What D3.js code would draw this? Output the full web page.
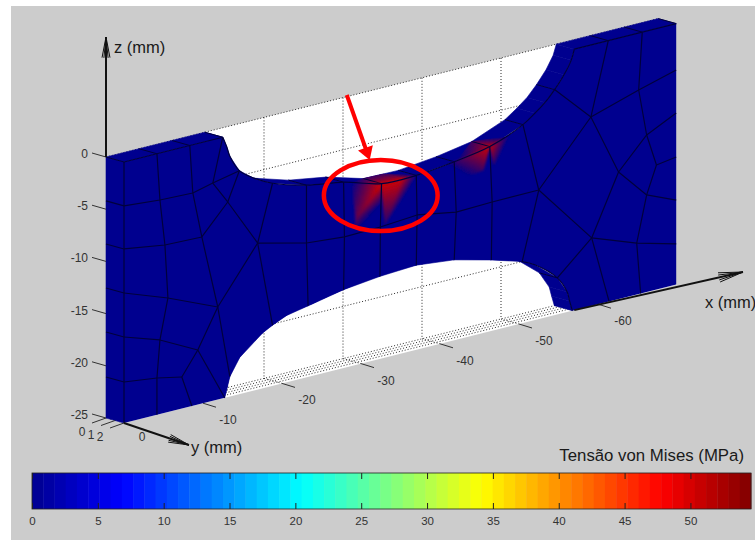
<!DOCTYPE html>
<html>
<head>
<meta charset="utf-8">
<script src="https://cdnjs.cloudflare.com/ajax/libs/d3/7.8.5/d3.min.js"></script>
<style>
    html, body { margin: 0; padding: 0; background: #fff; }
    svg { display: block; }
    text { font-family: "Liberation Sans", Arial, sans-serif; }
</style>
</head>
<body>
<svg id="chart" width="755" height="540"></svg>
<script>
// all geometry in mm, x and z are negative like on the plot axes
const plateLength = -69.9;
const plateDepth = -25;

const topNotch = [[-12.5, 0], [-13, -1], [-13.4, -2], [-14.6, -3.6], [-16.3, -4.6], [-18.8, -5.6], [-23.1, -6.6],
    [-27.8, -7.2], [-32.6, -8.25], [-37, -8.3], [-41.8, -7.9], [-46.3, -7.3], [-50.5, -6], [-52, -5.2],
    [-53.3, -4.4], [-54.5, -3.4], [-55.7, -2.2], [-56.6, -1], [-57, 0]];

const bottomNotch = [[-12.75, -25], [-13.1, -24], [-13.4, -23.1], [-14.65, -21.5], [-17.55, -19.7], [-18.8, -19.2],
    [-20.6, -18.6], [-23.3, -18.2], [-27.8, -17.5], [-32.4, -17.1], [-37, -16.9], [-41.8, -17.3], [-46.5, -18.2],
    [-50.4, -19.1], [-52, -19.7], [-54.85, -21.5], [-56.1, -23.1], [-56.4, -24], [-56.75, -25]];

const meshNodes = {
    L1: [0, -4.21], L2: [0, -8.33], L3: [0, -12.55], L4: [0, -16.76], L5: [0, -21.07],
    t1: [-4.17, 0], t2: [-8.33, 0], t3: [-12.5, 0], t4: [-61.3, 0], t5: [-65.6, 0],
    n2: [-4.55, -4.5], n3: [-8.71, -4.62], n4: [-11.24, -4.15], n5: [-13.13, -6.32], n6: [-16.92, -10.97],
    n7: [-23.1, -12.14], n8: [-27.9, -12.47], n9: [-32.45, -12.38], n10: [-37.1, -12.11], n11: [-42.05, -12.77],
    n12: [-46.6, -12.67], n13: [-52.5, -12.64],
    r2: [-5.18, -8.93], r3: [-9.85, -9.05],
    a2: [-5.56, -14.08], a3: [-11.87, -16.14], b2: [-4.55, -17.91], b3: [-9.34, -19.78],
    c2: [-4.17, -21.48], c3: [-7.32, -21.98], d1: [-4.17, -25], d2: [-8.59, -25], d3: [-61.4, -25], d4: [-65.4, -25],
    p1: [-59.1, -6.9], p2: [-65.15, -5.46], p3: [-66.16, -9.96], p4: [-67.4, -13.07], p5: [-62.6, -12.83],
    p6: [-66.16, -15.7], p7: [-59.2, -18.5], p8: [-64.9, -20.07],
    e1: [-69.9, -4.44], e2: [-69.9, -8.56], e3: [-69.9, -12.78], e4: [-69.9, -16.9], e5: [-69.9, -21.1],
    u1: [-14.6, -3.6], u2: [-18.8, -5.6], u3: [-23.1, -6.6], u4: [-27.8, -7.2], u5: [-32.6, -8.25], u6: [-37, -8.3],
    u7: [-41.8, -7.9], u8: [-46.3, -7.3], u9: [-50.5, -6], u10: [-54.5, -3.4],
    w1: [-13.4, -23.1], w2: [-18.8, -19.2], w3: [-23.3, -18.2], w4: [-27.8, -17.5], w5: [-32.4, -17.1], w6: [-37, -16.9],
    w7: [-41.8, -17.3], w8: [-46.5, -18.2], w9: [-50.4, -19.1], w10: [-54.85, -21.5], w0: [-12.75, -25]
};

const meshLines = [
    ['L1', 'n2', 'n3', 'n4', 'u1'], ['L2', 'r2', 'r3', 'n5', 'u1'], ['t3', 'n4', 'n5', 'n6', 'u2'],
    ['r3', 'a3', 'n6', 'n7', 'n8', 'n9', 'n10', 'n11', 'n12', 'n13', 'p7'],
    ['t1', 'n2', 'r2', 'a2', 'b2', 'c2', 'd1'], ['t2', 'n3', 'r3'],
    ['L3', 'a2', 'a3'], ['L4', 'b2', 'b3'], ['L5', 'c2', 'c3'], ['a3', 'b3', 'c3', 'd2'], ['b3', 'w0'], ['a3', 'w1'],
    ['n6', 'w2'], ['u3', 'n7', 'w3'], ['u4', 'n8', 'w4'], ['u5', 'n9', 'w5'], ['u6', 'n10', 'w6'],
    ['u7', 'n11', 'w7'], ['u8', 'n12', 'w8'], ['u9', 'n13', 'w9'], ['n13', 'p1', 'u10'], ['p1', 't4'],
    ['p1', 'p2', 'e1'], ['p2', 't5'], ['p2', 'p3', 'e2'], ['p3', 'p4', 'e3'], ['p3', 'p5', 'p1'], ['p5', 'p7'],
    ['p5', 'p6', 'e4'], ['p4', 'p6', 'p8', 'e5'], ['p7', 'p8', 'd4'], ['p7', 'w10'], ['p7', 'd3']
];

// nodes where the mesh also runs across the 2 mm thickness
const acrossNodes = ['t1', 't2', 't3', 't4', 't5', 'u3', 'u4', 'u5', 'u6', 'u7', 'u8', 'u9', 'u10', 'w9', 'w10'];

// stress spots, one triangle per row: [x, y, z, stress] at each corner
const hotBand = [
    [[-28.8, 2, -7.5, 0], [-32.6, 2, -8.25, 40], [-32.6, 0, -8.25, 14]],
    [[-32.6, 2, -8.25, 40], [-35.1, 2, -8.3, 40], [-32.6, 0, -8.25, 14]],
    [[-35.1, 2, -8.3, 40], [-35.1, 0, -8.3, 14], [-32.6, 0, -8.25, 14]],
    [[-35.1, 2, -8.3, 40], [-37.1, 2, -8.3, 0], [-35.1, 0, -8.3, 14]],
    [[-42.2, 2, -7.85, 0], [-46.3, 2, -7.3, 40], [-46.3, 0, -7.3, 16]],
    [[-46.3, 2, -7.3, 40], [-48.5, 2, -6.8, 0], [-46.3, 0, -7.3, 16]]
];
const hotFace = [
    [[-32.6, 2, -8.25, 50], [-28.8, 2, -7.5, 0], [-29.4, 2, -10.94, 24]],
    [[-32.6, 2, -8.25, 50], [-29.4, 2, -10.94, 24], [-32.45, 2, -10.28, 0]],
    [[-28.8, 2, -7.5, 0], [-29.4, 2, -10.94, 24], [-29.3, 2, -12.26, 0]],
    [[-32.45, 2, -10.28, 0], [-29.4, 2, -10.94, 24], [-29.3, 2, -12.26, 0]],
    [[-32.6, 2, -8.25, 50], [-35.1, 2, -8.3, 48], [-33, 2, -12.3, 8]],
    [[-35.1, 2, -8.3, 48], [-37.1, 2, -8.3, 0], [-33, 2, -12.3, 8]],
    [[-46.3, 2, -7.3, 50], [-42.2, 2, -7.85, 14], [-45.5, 2, -9.4, 16]],
    [[-46.3, 2, -7.3, 46], [-48.8, 2, -6.7, 0], [-46.8, 2, -9.2, 8]],
    [[-42.2, 2, -7.85, 14], [-45.5, 2, -9.4, 16], [-43.6, 2, -9.6, 0]],
    [[-42.2, 2, -7.85, 14], [-41, 2, -8, 0], [-43.6, 2, -9.6, 0]]
];

const xTicks = [0, -10, -20, -30, -40, -50, -60];
const zTicks = [0, -5, -10, -15, -20, -25];
const yTicks = [0, 1, 2];
const gridX = [-20, -30, -40, -50];
const gridZ = [0, -5, -10, -15, -20];
const floorRows = [0, 0.5, 1, 1.5];

const colorbarTicks = [0, 5, 10, 15, 20, 25, 30, 35, 40, 45, 50];
const stressMax = 54.6;
const jetStops = [0, 0.125, 0.375, 0.625, 0.875, 1];
const jetColors = ['#00008f', '#0000ff', '#00ffff', '#ffff00', '#ff0000', '#800000'];
const jetLevels = 64;

const arrowStart = [-28.2, 1.07];
const arrowTip = [-31.1, -5.7];
const ringCenter = [-32.5, -9.37];
const ringRadii = [-7.2, -3.4];

const svg = d3.select('#chart');

// oblique projection of the plot box on the page
const xToPx = d3.scaleLinear().domain([0, -70]).range([0, 553]);
const xToPy = d3.scaleLinear().domain([0, -70]).range([0, -138.6]);
const zToPy = d3.scaleLinear().domain([0, -25]).range([0, 261]);
const yToPx = d3.scaleLinear().domain([0, 2]).range([106, 124]);
const yToPy = d3.scaleLinear().domain([0, 2]).range([157, 162]);
const project = (x, y, z) => [yToPx(y) + xToPx(x), yToPy(y) + xToPy(x) + zToPy(z)];

const jet = d3.scaleLinear().domain(jetStops).range(jetColors).interpolate(d3.interpolateRgb);
const stressColor = (v) => jet(v / stressMax);
const baseColor = jetColors[0];
const hotColor = stressColor(50);
const outline = d3.line();
const smooth = d3.line().curve(d3.curveCatmullRom);

function onFace(points, y = 2) {
    return points.map((p) => project(p[0], y, p[1]));
}

// figure background
svg.append('rect').attr('x', 11).attr('y', 6).attr('width', 744).attr('height', 534).attr('fill', '#cccccc');

const defs = svg.append('defs');
defs.append('filter').attr('id', 'soft').attr('x', '-20%').attr('y', '-20%').attr('width', '140%').attr('height', '140%')
    .append('feGaussianBlur').attr('stdDeviation', 0.9);

// white back wall and floor
svg.append('path')
    .attr('d', outline([project(0, 0, 0), project(-70, 0, 0), project(-70, 0, -25), project(-70, 2, -25),
        project(0, 2, -25), project(0, 0, -25)]) + 'Z')
    .attr('fill', '#fff');

const grid = svg.append('g').attr('fill', 'none').attr('stroke', '#2c2c2c')
    .attr('stroke-width', 1).attr('stroke-dasharray', '1 2');
function gridLine(a, b) {
    grid.append('path').attr('d', outline([a, b]));
}
gridZ.forEach((z) => gridLine(project(0, 0, z), project(-70, 0, z)));
gridX.forEach((x) => {
    gridLine(project(x, 0, 0), project(x, 0, -25));
    gridLine(project(x, 0, -25), project(x, 2, -25));
});
floorRows.forEach((y) => gridLine(project(0, y, -25), project(-70, y, -25)));

// thickness faces seen from above, drawn first so the front face hides what is behind it
const band = svg.append('g').attr('fill', baseColor).attr('stroke', baseColor).attr('stroke-width', 0.6);
function extrude(points) {
    d3.pairs(points).forEach(([a, b]) => {
        band.append('path').attr('d', outline([project(a[0], 0, a[1]), project(b[0], 0, b[1]),
            project(b[0], 2, b[1]), project(a[0], 2, a[1])]) + 'Z');
    });
}
extrude([[0, 0]].concat(topNotch, [[plateLength, 0]]));
extrude(bottomNotch);
band.append('path').attr('d', outline([project(0, 0, 0), project(0, 2, 0), project(0, 2, plateDepth),
    project(0, 0, plateDepth)]) + 'Z');

// gouraud-like fill: cut each triangle in small cells and colour them from the corner stress
function drawHot(group, triangles) {
    const steps = 14;
    const shade = d3.scaleLinear().domain([0, 50]).range([baseColor, hotColor]).interpolate(d3.interpolateRgb);
    triangles.forEach((tri) => {
        const at = (i, j) => {
            const k = steps - i - j;
            return d3.range(4).map((c) => (tri[0][c] * i + tri[1][c] * j + tri[2][c] * k) / steps);
        };
        const cell = (p, q, r) => {
            const col = shade((p[3] + q[3] + r[3]) / 3);
            group.append('path')
                .attr('d', outline([project(p[0], p[1], p[2]), project(q[0], q[1], q[2]), project(r[0], r[1], r[2])]) + 'Z')
                .attr('fill', col).attr('stroke', col).attr('stroke-width', 0.4);
        };
        for (let i = 0; i < steps; i++) {
            for (let j = 0; j < steps - i; j++) {
                cell(at(i, j), at(i + 1, j), at(i, j + 1));
                if (i + j < steps - 1) cell(at(i + 1, j), at(i + 1, j + 1), at(i, j + 1));
            }
        }
    });
}
drawHot(svg.append('g'), hotBand);

const meshColor = '#00003c';
const across = svg.append('g').attr('stroke', meshColor).attr('stroke-width', 1).attr('fill', 'none');
acrossNodes.forEach((id) => {
    const n = meshNodes[id];
    across.append('path').attr('d', outline([project(n[0], 0, n[1]), project(n[0], 2, n[1])]));
});
[plateLength, 0].forEach((x) => {
    across.append('path').attr('d', outline([project(x, 0, 0), project(x, 2, 0)]));
});

// front face, notch edges go through the smooth curve
const joinCurve = (points) => smooth(onFace(points)).replace(/^M/, 'L');
const frontPath = outline(onFace([[0, 0]]))
    + joinCurve(topNotch)
    + outline(onFace([[plateLength, 0], [plateLength, plateDepth]])).replace(/^M/, 'L')
    + joinCurve(bottomNotch.slice().reverse())
    + outline(onFace([[0, plateDepth]])).replace(/^M/, 'L') + 'Z';
svg.append('path').attr('d', frontPath).attr('fill', baseColor);
drawHot(svg.append('g').attr('filter', 'url(#soft)'), hotFace);

// mesh on the front face
const mesh = svg.append('g').attr('fill', 'none').attr('stroke', meshColor).attr('stroke-width', 1.2)
    .attr('stroke-linejoin', 'round');
meshLines.forEach((line) => {
    mesh.append('path').attr('d', outline(line.map((id) => project(meshNodes[id][0], 2, meshNodes[id][1]))));
});
mesh.append('path').attr('d', smooth(onFace(topNotch)));
mesh.append('path').attr('d', smooth(onFace(bottomNotch.slice(13))));
mesh.append('path').attr('d', outline(onFace([[0, 0], [-12.5, 0]])));
mesh.append('path').attr('d', outline(onFace([[-57, 0], [plateLength, 0]])));
mesh.append('path').attr('d', outline(onFace([[0, 0], [0, plateDepth]])));
['L1', 'L2', 'L3', 'L4', 'L5'].forEach((id) => {
    const z = meshNodes[id][1];
    mesh.append('path').attr('d', outline([project(0, 0, z), project(0, 2, z)]));
});

// axis ticks and labels
const ticks = svg.append('g').attr('stroke', '#333').attr('stroke-width', 1).attr('fill', 'none');
const labels = svg.append('g').attr('fill', '#333').attr('font-size', 12);

zTicks.forEach((z) => {
    const [px, py] = project(0, 0, z);
    ticks.append('line').attr('x1', px - 14).attr('y1', py - 4).attr('x2', px).attr('y2', py);
    labels.append('text').attr('x', 88).attr('y', py + 1).attr('text-anchor', 'end').text(z);
});
xTicks.forEach((x) => {
    const [px, py] = project(x, 2, -25);
    if (x !== 0) ticks.append('line').attr('x1', px).attr('y1', py).attr('x2', px + 13).attr('y2', py + 4);
    labels.append('text').attr('x', px + (x === 0 ? 18 : 25)).attr('y', py + (x === 0 ? 18 : 21))
        .attr('text-anchor', 'middle').text(x);
});
yTicks.forEach((y) => {
    const [px, py] = project(0, y, -25);
    ticks.append('line').attr('x1', px - 14).attr('y1', py + 5).attr('x2', px).attr('y2', py);
    labels.append('text').attr('x', px - 24).attr('y', py + 18).attr('text-anchor', 'middle').text(y);
});

// axis arrows
function axisArrow(from, to, barb) {
    const g = svg.append('g').attr('stroke', '#111').attr('fill', 'none').attr('stroke-width', 2);
    g.append('line').attr('x1', from[0]).attr('y1', from[1]).attr('x2', to[0]).attr('y2', to[1]);
    const ang = Math.atan2(to[1] - from[1], to[0] - from[0]);
    [-0.19, -0.1, 0.1, 0.19].forEach((t) => {
        g.append('line').attr('x1', to[0]).attr('y1', to[1])
            .attr('x2', to[0] - barb * Math.cos(ang + t)).attr('y2', to[1] - barb * Math.sin(ang + t))
            .attr('stroke-width', 1);
    });
}
axisArrow(project(0, 0, 0), [106, 37], 21);
axisArrow(project(0, 2, -25), [189, 445], 21);
axisArrow(project(-57, 2, -25), [743, 272], 25);

const axisTitles = svg.append('g').attr('fill', '#1a1a1a').attr('font-size', 16.5);
axisTitles.append('text').attr('x', 114).attr('y', 53).text('z (mm)');
axisTitles.append('text').attr('x', 191).attr('y', 453).text('y (mm)');
axisTitles.append('text').attr('x', 705).attr('y', 308).text('x (mm)');

// red annotation
const annotation = svg.append('g').attr('stroke', '#ff0000').attr('fill', 'none');
const ringAt = project(ringCenter[0], 2, ringCenter[1]);
annotation.append('ellipse')
    .attr('cx', ringAt[0]).attr('cy', ringAt[1])
    .attr('rx', xToPx(ringRadii[0])).attr('ry', zToPy(ringRadii[1]))
    .attr('stroke-width', 4.5);
const aFrom = project(arrowStart[0], 2, arrowStart[1]);
const aTo = project(arrowTip[0], 2, arrowTip[1]);
const aAng = Math.atan2(aTo[1] - aFrom[1], aTo[0] - aFrom[0]);
annotation.append('line').attr('x1', aFrom[0]).attr('y1', aFrom[1])
    .attr('x2', aTo[0] - 8 * Math.cos(aAng)).attr('y2', aTo[1] - 8 * Math.sin(aAng)).attr('stroke-width', 4);
annotation.append('path')
    .attr('d', outline([aTo, [aTo[0] - 15 * Math.cos(aAng - 0.55), aTo[1] - 15 * Math.sin(aAng - 0.55)],
        [aTo[0] - 15 * Math.cos(aAng + 0.55), aTo[1] - 15 * Math.sin(aAng + 0.55)]]) + 'Z')
    .attr('fill', '#ff0000').attr('stroke', 'none');

// colorbar
const barX = d3.scaleLinear().domain([0, stressMax]).range([32, 751]);
const barTop = 473;
const barBottom = 509;
svg.append('g').selectAll('rect')
    .data(d3.range(jetLevels))
    .enter()
    .append('rect')
    .attr('x', (i) => barX(i * stressMax / jetLevels))
    .attr('y', barTop)
    .attr('width', (i) => barX((i + 1) * stressMax / jetLevels) - barX(i * stressMax / jetLevels) + 0.4)
    .attr('height', barBottom - barTop)
    .attr('fill', (i) => stressColor((i + 0.5) * stressMax / jetLevels));
svg.append('rect').attr('x', 32).attr('y', barTop).attr('width', 719).attr('height', barBottom - barTop)
    .attr('fill', 'none').attr('stroke', '#222').attr('stroke-width', 0.8);

const barAxis = svg.append('g').attr('transform', `translate(0,${barBottom})`)
    .call(d3.axisBottom(barX).tickValues(colorbarTicks).tickSize(-6).tickPadding(8));
barAxis.select('.domain').remove();
barAxis.selectAll('line').attr('stroke', '#222');
barAxis.selectAll('text').attr('font-size', 11.5).attr('font-family', '"Liberation Sans", Arial, sans-serif').attr('fill', '#333');
const barAxisTop = svg.append('g').attr('transform', `translate(0,${barTop})`)
    .call(d3.axisTop(barX).tickValues(colorbarTicks).tickSize(-6).tickFormat(''));
barAxisTop.select('.domain').remove();
barAxisTop.selectAll('line').attr('stroke', '#222');

svg.append('text').attr('x', 744).attr('y', 461).attr('text-anchor', 'end')
    .attr('font-size', 16.8).attr('fill', '#1a1a1a').text('Tensão von Mises (MPa)');
</script>
</body>
</html>
